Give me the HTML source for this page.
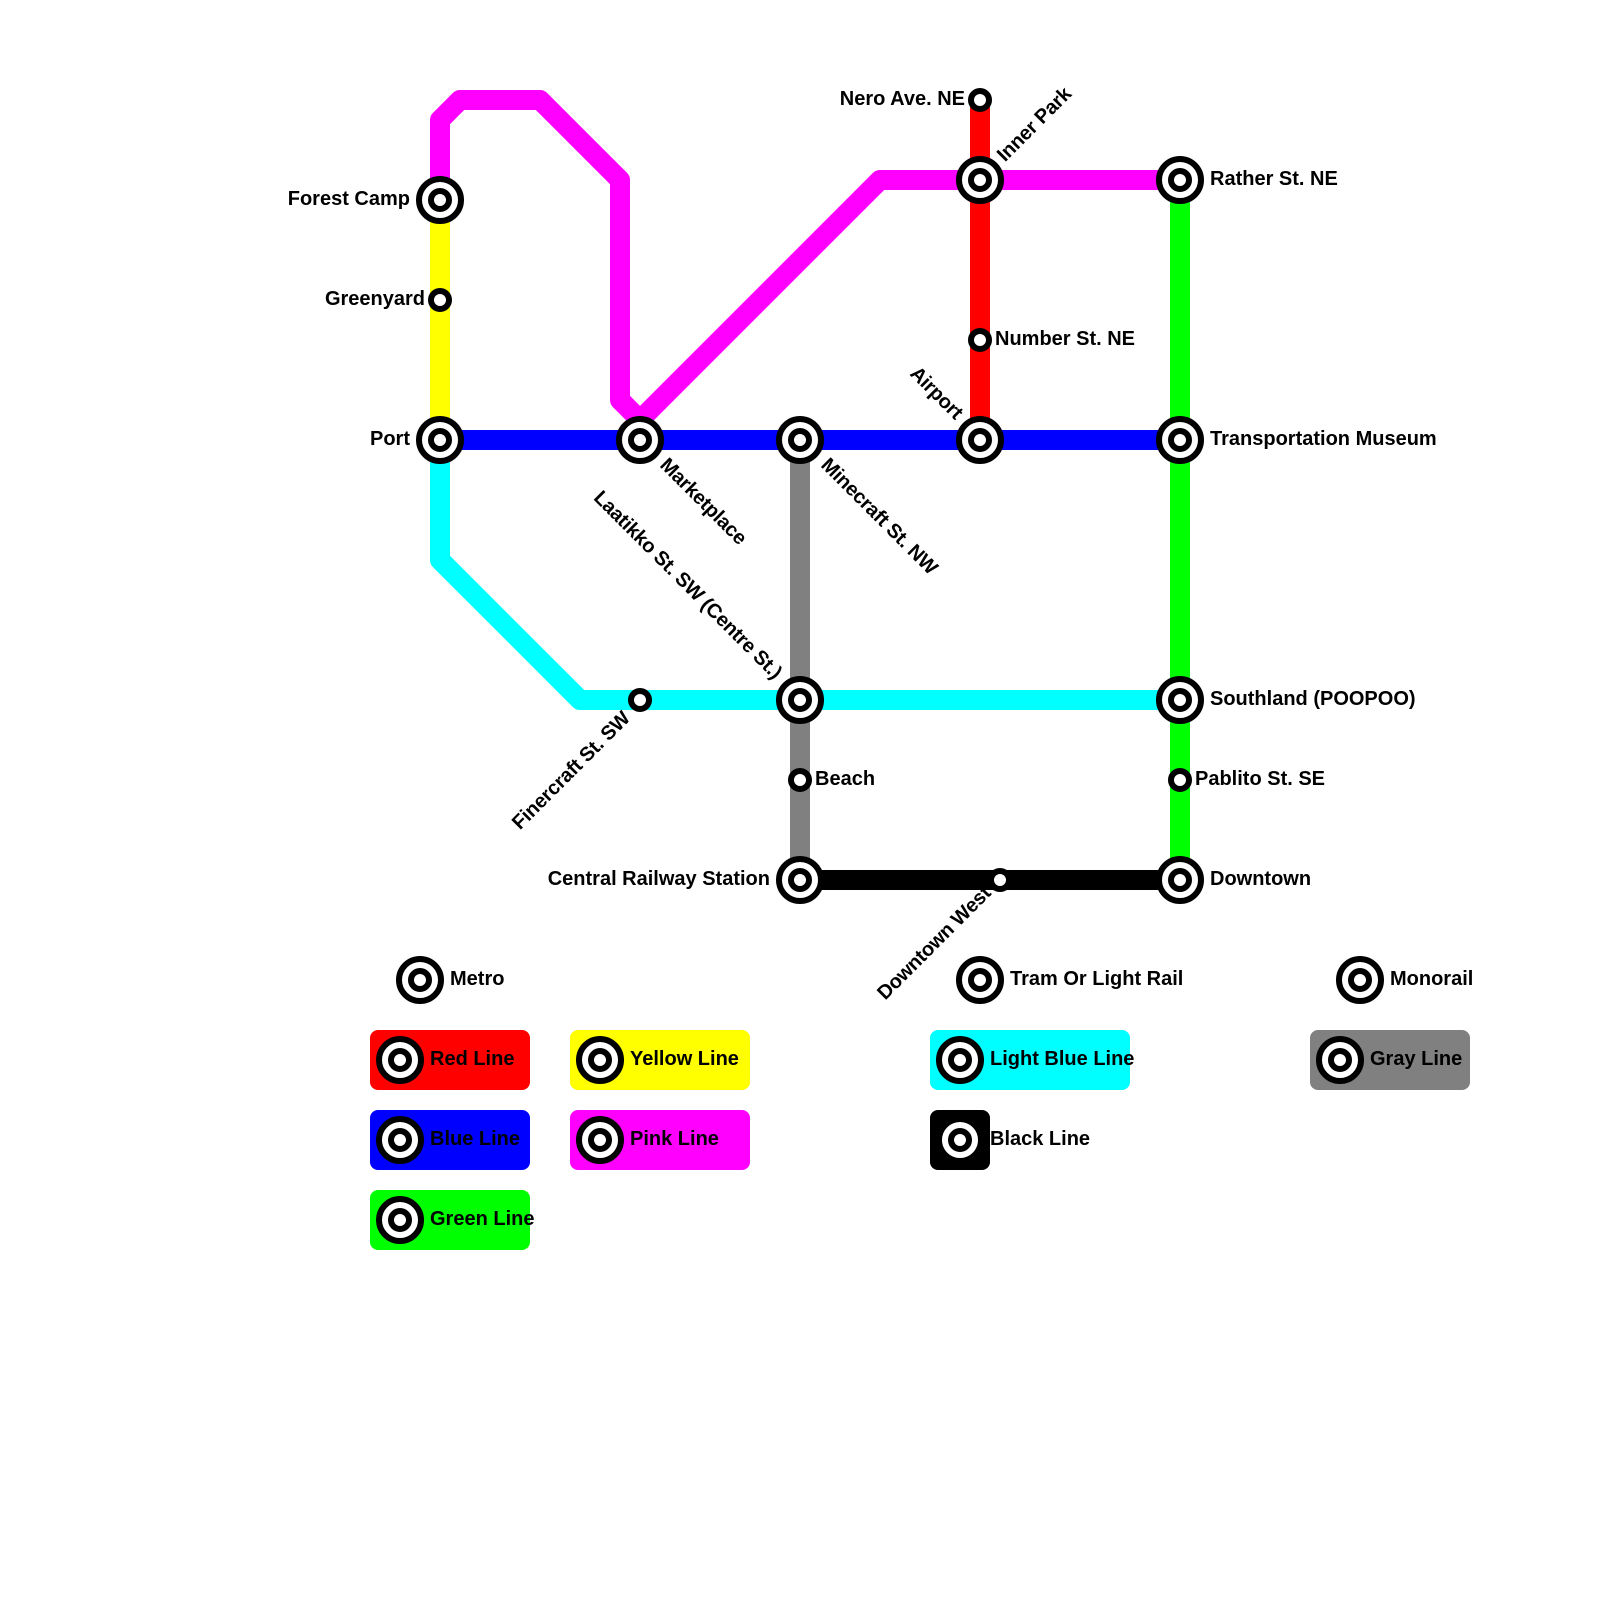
<!DOCTYPE html>
<html>
<head>
<meta charset="utf-8">
<style>
html,body{margin:0;padding:0;background:#fff}
svg{display:block}
text{font-family:"Liberation Sans",Arial,sans-serif;font-weight:bold;font-size:20px;fill:#000}
.e{text-anchor:end}
.r{letter-spacing:-0.25px}
</style>
</head>
<body>
<svg xmlns="http://www.w3.org/2000/svg" xmlns:xlink="http://www.w3.org/1999/xlink" width="1600" height="1600" viewBox="0 0 1600 1600">
<rect width="1600" height="1600" fill="#fff"/>
<defs>
<g id="b"><circle r="21" fill="#fff" stroke="#000" stroke-width="6"/><circle r="9" fill="#fff" stroke="#000" stroke-width="6"/></g>
<g id="s"><circle r="9" fill="#fff" stroke="#000" stroke-width="6"/></g>
</defs>
<g fill="none" stroke-width="20" stroke-linejoin="round">
<path d="M980 100V440" stroke="#f00"/>
<path d="M440 200V440" stroke="#ff0"/>
<path d="M1180 180V880" stroke="#0f0"/>
<path d="M800 440V880" stroke="#808080"/>
<path d="M440 440V560L580 700H1180" stroke="#0ff"/>
<path d="M440 440H1180" stroke="#00f"/>
<path d="M800 880H1180" stroke="#000"/>
<path d="M440 200V120L460 100H540L620 180V400L640 420L880 180H1180" stroke="#f0f"/>
<path d="M640 420V440" stroke="#f0f"/>
</g>
<use xlink:href="#b" href="#b" x="440" y="200"/>
<use xlink:href="#s" href="#s" x="440" y="300"/>
<use xlink:href="#b" href="#b" x="440" y="440"/>
<use xlink:href="#b" href="#b" x="640" y="440"/>
<use xlink:href="#b" href="#b" x="800" y="440"/>
<use xlink:href="#b" href="#b" x="980" y="440"/>
<use xlink:href="#b" href="#b" x="1180" y="440"/>
<use xlink:href="#s" href="#s" x="980" y="100"/>
<use xlink:href="#b" href="#b" x="980" y="180"/>
<use xlink:href="#s" href="#s" x="980" y="340"/>
<use xlink:href="#b" href="#b" x="1180" y="180"/>
<use xlink:href="#b" href="#b" x="1180" y="700"/>
<use xlink:href="#s" href="#s" x="1180" y="780"/>
<use xlink:href="#b" href="#b" x="1180" y="880"/>
<use xlink:href="#s" href="#s" x="1000" y="880"/>
<use xlink:href="#b" href="#b" x="800" y="880"/>
<use xlink:href="#s" href="#s" x="800" y="780"/>
<use xlink:href="#b" href="#b" x="800" y="700"/>
<use xlink:href="#s" href="#s" x="640" y="700"/>

<text class="e" x="410" y="205">Forest Camp</text>
<text class="e" x="425" y="305">Greenyard</text>
<text class="e" x="410" y="445">Port</text>
<text class="e" x="965" y="105">Nero Ave. NE</text>
<text x="995" y="345">Number St. NE</text>
<text x="1210" y="185">Rather St. NE</text>
<text x="1210" y="445">Transportation Museum</text>
<text x="1210" y="705">Southland (POOPOO)</text>
<text x="1195" y="785">Pablito St. SE</text>
<text x="1210" y="885">Downtown</text>
<text x="815" y="785">Beach</text>
<text class="e" x="770" y="885">Central Railway Station</text>
<text class="r" transform="translate(1005 162.5) rotate(-45)">Inner Park</text>
<text class="e r" transform="translate(955 420.4) rotate(45)">Airport</text>
<text class="r" transform="translate(659 466) rotate(45)">Marketplace</text>
<text class="r" transform="translate(820 466) rotate(45)">Minecraft St. NW</text>
<text class="e r" transform="translate(774 680) rotate(45)">Laatikko St. SW (Centre St.)</text>
<text class="e r" transform="translate(631 719.5) rotate(-45)">Finercraft St. SW</text>
<text class="e r" transform="translate(991.85 894.15) rotate(-45)">Downtown West</text>

<use xlink:href="#b" href="#b" x="420" y="980"/><text x="450" y="985">Metro</text>
<use xlink:href="#b" href="#b" x="980" y="980"/><text x="1010" y="985">Tram Or Light Rail</text>
<use xlink:href="#b" href="#b" x="1360" y="980"/><text x="1390" y="985">Monorail</text>

<rect x="370" y="1030" width="160" height="60" rx="8" fill="#f00"/>
<use xlink:href="#b" href="#b" x="400" y="1060"/><text x="430" y="1065">Red Line</text>
<rect x="370" y="1110" width="160" height="60" rx="8" fill="#00f"/>
<use xlink:href="#b" href="#b" x="400" y="1140"/><text x="430" y="1145">Blue Line</text>
<rect x="370" y="1190" width="160" height="60" rx="8" fill="#0f0"/>
<use xlink:href="#b" href="#b" x="400" y="1220"/><text x="430" y="1225">Green Line</text>
<rect x="570" y="1030" width="180" height="60" rx="8" fill="#ff0"/>
<use xlink:href="#b" href="#b" x="600" y="1060"/><text x="630" y="1065">Yellow Line</text>
<rect x="570" y="1110" width="180" height="60" rx="8" fill="#f0f"/>
<use xlink:href="#b" href="#b" x="600" y="1140"/><text x="630" y="1145">Pink Line</text>
<rect x="930" y="1030" width="200" height="60" rx="8" fill="#0ff"/>
<use xlink:href="#b" href="#b" x="960" y="1060"/><text x="990" y="1065">Light Blue Line</text>
<rect x="930" y="1110" width="60" height="60" rx="8" fill="#000"/>
<use xlink:href="#b" href="#b" x="960" y="1140"/><text x="990" y="1145">Black Line</text>
<rect x="1310" y="1030" width="160" height="60" rx="8" fill="#808080"/>
<use xlink:href="#b" href="#b" x="1340" y="1060"/><text x="1370" y="1065">Gray Line</text>
</svg>
</body>
</html>
